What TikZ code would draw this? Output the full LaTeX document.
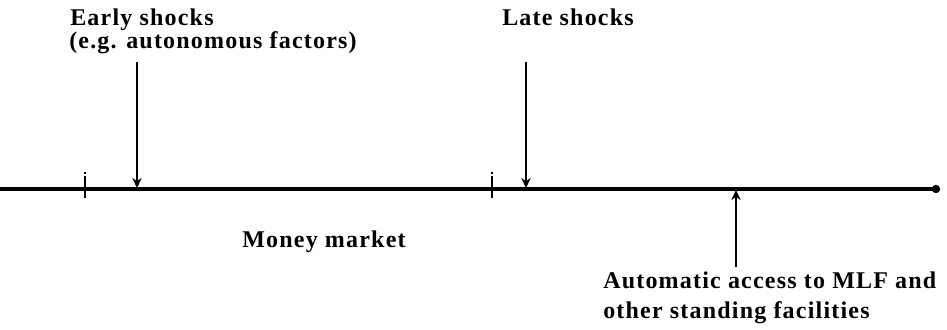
\documentclass[tikz,border=0pt]{standalone}
\usepackage{fontspec}
\setmainfont{Liberation Serif}[LetterSpace=5]
\usepackage{tikz}
\usetikzlibrary{arrows.meta,positioning}

\begin{document}
\begin{tikzpicture}[x=0.75pt,y=-0.75pt,
        lbl/.style={font=\fontsize{18}{21}\selectfont\bfseries, inner sep=0pt, anchor=base west},
        shock/.style={->, line width=2pt},
        tickmark/.style={line width=2pt, dash pattern=on 1.5pt off 1.5pt on 10pt off 1.5pt on 5pt},
        >={Stealth[length=7.5pt,width=7pt]}
      ]
        \useasboundingbox (0,0) rectangle (947,329);
        % time line
        \coordinate (start) at (0,189);
        \coordinate (end) at (940,189);
        \draw[line width=3pt, -{Circle[length=6pt]}] (start) -- (end);
        \draw[tickmark] (85,172) -- (85,198);
        \draw[tickmark] (492,172) -- (492,198);
        % labels
        \node[lbl] (early) at (70,25) {Early shocks};
        \node[lbl] (earlyex) at (69,48) {(e.g. autonomous factors)};
        \node[lbl] (late) at (502,25) {Late shocks};
        \node[lbl, anchor=base] (mm) at (324,247) {Money market};
        \node[lbl] (mlf) at (603,288) {Automatic access to MLF and};
        \node[lbl] (mlf2) at (603,318) {other standing facilities};
        % shocks and facilities
        \coordinate (earlytop) at (137,62);
        \coordinate (earlyhit) at (137,188);
        \coordinate (latetop) at (526,62);
        \coordinate (latehit) at (526,188);
        \coordinate (mlfbot) at (736,267);
        \coordinate (mlfhit) at (736,190);
        \draw[shock] (earlytop) -- (earlyhit);
        \draw[shock] (latetop) -- (latehit);
        \draw[shock] (mlfbot) -- (mlfhit);
      \end{tikzpicture}
\end{document}
